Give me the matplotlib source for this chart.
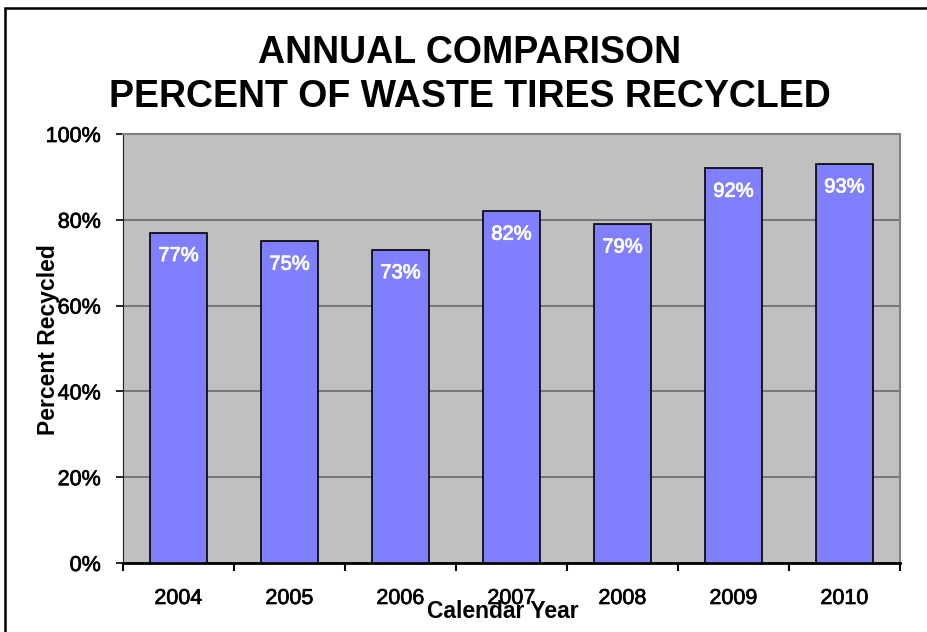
import matplotlib.pyplot as plt
import matplotlib.patches as patches
import matplotlib.patheffects as pe
import numpy as np

plt.rcParams['font.family'] = ['Liberation Sans', 'DejaVu Sans']

years = ['2004', '2005', '2006', '2007', '2008', '2009', '2010']
pct_recycled = [77, 75, 73, 82, 79, 92, 93]
y_ticks = [0, 20, 40, 60, 80, 100]

fig = plt.figure(figsize=(9.27, 6.32), dpi=100)

# outer chart border
fig.patches.append(patches.Rectangle((5 / 927, -0.05), 1.1, 0.987 + 0.05,
                                     transform=fig.transFigure, fill=False,
                                     edgecolor='black', linewidth=1.8))

ax = fig.add_axes([123 / 927, 1 - 563 / 632, (900 - 123) / 927, (563 - 134) / 632])
ax.set_facecolor('#C0C0C0')

x = np.arange(len(years))
bars = ax.bar(x, pct_recycled, width=0.51, color='#8080FF', edgecolor='black',
              linewidth=1.2, zorder=3)

# slightly heavier strokes for the regular-weight labels
thick = [pe.withStroke(linewidth=0.5, foreground='black')]

ax.set_xlim(-0.5, len(years) - 0.5)
ax.set_ylim(0, 100)
ax.set_yticks(y_ticks)
ax.set_yticklabels(['%d%%' % v for v in y_ticks], fontsize=15.5)
ax.yaxis.grid(True, color='#6a6a6a', linewidth=1.2, zorder=1)

ax.set_xticks(x)
ax.set_xticklabels(years, fontsize=15.5)
ax.set_xticks(np.arange(-0.5, len(years)), minor=True)
ax.tick_params(axis='x', which='major', length=0, pad=18)
ax.tick_params(axis='x', which='minor', length=6, width=1.5, direction='out')
ax.tick_params(axis='y', length=5, width=1.2, pad=11)
for lbl in ax.get_xticklabels() + ax.get_yticklabels():
    lbl.set_path_effects(thick)

for side in ['top', 'right']:
    ax.spines[side].set_color('#808080')
    ax.spines[side].set_linewidth(1.5)
ax.spines['left'].set_color('#202020')
ax.spines['bottom'].set_linewidth(2)

for b, v in zip(bars, pct_recycled):
    ax.annotate('%d%%' % v, (b.get_x() + b.get_width() / 2, v),
                xytext=(0, -16.5), textcoords='offset points',
                ha='center', va='center', color='white', fontsize=14.5, zorder=4,
                path_effects=[pe.withStroke(linewidth=0.6, foreground='white')])

fig.text(470 / 927, 1 - 75 / 632, 'ANNUAL COMPARISON\nPERCENT OF WASTE TIRES RECYCLED',
         ha='center', va='center', fontsize=27, fontweight='bold', linespacing=1.3)
fig.text(49 / 927, 1 - 340 / 632, 'Percent Recycled', rotation=90,
         ha='center', va='center', fontsize=16.5, fontweight='bold')
fig.text(503 / 927, 1 - 612 / 632, 'Calendar Year',
         ha='center', va='center', fontsize=16.5, fontweight='bold')

plt.savefig('out.png', dpi=100)
